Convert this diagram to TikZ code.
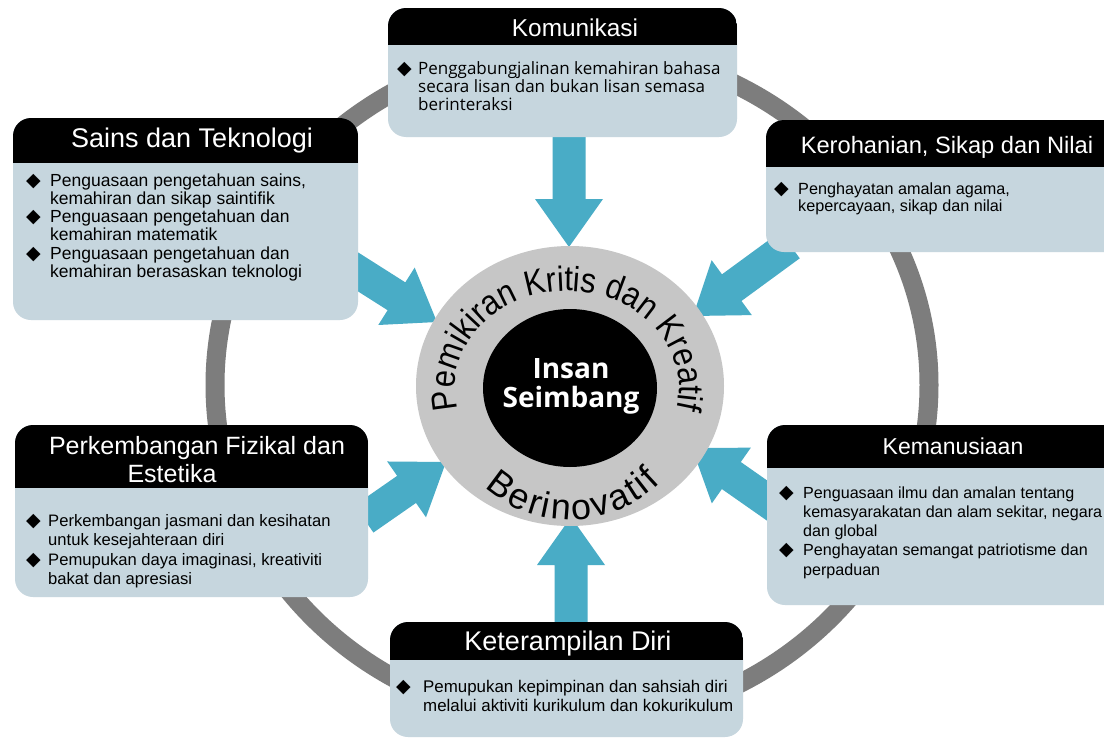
\documentclass[tikz,border=0pt]{standalone}
\usepackage{fontspec}
\setmainfont{Liberation Sans}
\newfontfamily\osans{Open Sans}
\newfontfamily\arcfont{Liberation Sans}[FakeStretch=0.88]
\newfontfamily\symf{DejaVu Sans}
\usetikzlibrary{shapes.geometric,decorations.text,calc}
\definecolor{bodyc}{RGB}{198,214,222}
\definecolor{ringc}{RGB}{125,125,125}
\definecolor{lgray}{RGB}{198,198,198}
\definecolor{arrowc}{RGB}{73,172,198}
\newlength\bw
\newcommand\bul{{\symf\fontsize{19}{14}\selectfont ◆}}
\newcommand\bl{\makebox[\bw][l]{\bul}}
\newcommand\nb{\hspace*{\bw}}
\newcommand\toparc{\arcfont\fontsize{35}{35}\selectfont}
\newcommand\botarc{\fontsize{36}{36}\selectfont}
\newcommand\mkbox[6]{%
  \node[boxbody, minimum width={(#4)-(#2)}, minimum height={(#5)-(#3)}] (#1) at ({((#2)+(#4))/2},{-((#3)+(#5))/2}) {};
  \begin{scope}
    \clip[rounded corners=18pt] (#2,-#3) rectangle (#4,-#5);
    \fill[black] (#2,-#3) rectangle (#4,-#6);
  \end{scope}}
\newcommand\blockarrow[2]{%
  \coordinate (#2h) at ($(#2)!48pt!(#1)$);
  \fill[arrowc] (#2) -- ($(#2h)!34pt!90:(#2)$) -- ($(#2h)!16.5pt!90:(#2)$) -- ($(#1)!16.5pt!90:(#2)$) -- ($(#1)!16.5pt!-90:(#2)$) -- ($(#2h)!16.5pt!-90:(#2)$) -- ($(#2h)!34pt!-90:(#2)$) -- cycle;}
\tikzset{
  boxbody/.style={fill=bodyc, rounded corners=18pt, inner sep=0pt, outer sep=0pt},
  ttl/.style={text=white, inner sep=0pt, anchor=base},
  bodytxt/.style={inner sep=0pt, anchor=base west, text=black},
}
\begin{document}
\begin{tikzpicture}[x=1pt,y=1pt]
\useasboundingbox (0,0) rectangle (1104,-739);
\clip (0,0) rectangle (1104,-739);
\fill[white] (0,0) rectangle (1104,-739);
% outer ring
\draw[ringc, line width=19pt] (572,-385) ellipse [x radius=357, y radius=338];
% arrows
\coordinate (kS) at (569,-125); \coordinate (kT) at (569,-247);
\coordinate (rS) at (790,-245); \coordinate (rT) at (693,-316);
\coordinate (sS) at (344,-263); \coordinate (sT) at (437,-322);
\coordinate (pS) at (364,-519); \coordinate (pT) at (446,-462);
\coordinate (mS) at (782,-511); \coordinate (mT) at (692,-448);
\coordinate (dS) at (571,-630); \coordinate (dT) at (571,-517);
\blockarrow{kS}{kT}
\blockarrow{rS}{rT}
\blockarrow{sS}{sT}
\blockarrow{pS}{pT}
\blockarrow{mS}{mT}
\blockarrow{dS}{dT}
% centre
\coordinate (C) at (570,-386);
\coordinate (CT) at (567,-388);
\node[ellipse, fill=lgray, minimum width=308pt, minimum height=280pt, inner sep=0pt] (band) at (C) {};
\node[ellipse, fill=black, minimum width=174pt, minimum height=158pt, inner sep=0pt] (core) at (570,-388) {};
\node[anchor=base, text=white, inner sep=0pt, font=\osans\bfseries\fontsize{28}{29}\selectfont] (insan) at (571,-378) {Insan};
\node[anchor=base, text=white, inner sep=0pt, font=\osans\bfseries\fontsize{28}{29}\selectfont] (seimbang) at (571,-407) {Seimbang};
\path[decorate, decoration={text along path, text={|\toparc|Pemikiran Kritis dan Kreatif}, text align=center}]
  ([shift={(CT)}]194:112 and 97) arc[start angle=194, end angle=-14, x radius=112, y radius=97];
\path[decorate, decoration={text along path, text={|\botarc|Berinovatif}, text align={fit to path}}]
  ([shift={(C)}]229:130 and 134) arc[start angle=229, end angle=314, x radius=130, y radius=134];
% boxes
\mkbox{kom}{388}{8}{737}{137}{45}
\mkbox{sains}{13}{118}{358}{320}{163}
\mkbox{keroh}{766}{120}{1130}{252}{167}
\mkbox{perk}{15}{425}{368}{597}{488}
\mkbox{kem}{767}{425}{1130}{605}{468}
\mkbox{ket}{390}{622}{743}{737}{660}
% titles
\node[ttl, font=\fontsize{24.4}{26}\selectfont] (komT) at (575,-36) {Komunikasi};
\node[ttl, font=\fontsize{27}{28}\selectfont] (sainsT) at (192,-147) {Sains dan Teknologi};
\node[ttl, font=\fontsize{23.7}{26}\selectfont] (kerohT) at (947,-153) {Kerohanian, Sikap dan Nilai};
\node[ttl, font=\fontsize{25}{28}\selectfont] (perkT1) at (197,-454) {Perkembangan Fizikal dan};
\node[ttl, font=\fontsize{25}{28}\selectfont] (perkT2) at (172,-482) {Estetika};
\node[ttl, font=\fontsize{23}{26}\selectfont] (kemT) at (953,-454) {Kemanusiaan};
\node[ttl, font=\fontsize{27}{28}\selectfont] (ketT) at (568,-650) {Keterampilan Diri};
% bodies
\node[bodytxt, font=\osans\fontsize{17}{18}\selectfont] (komB) at (397,-74) {\setlength\bw{21pt}\begin{tabular}[t]{@{}l@{}}
\bl Penggabungjalinan kemahiran bahasa\\
\nb secara lisan dan bukan lisan semasa\\
\nb berinteraksi\end{tabular}};
\node[bodytxt, font=\fontsize{17.5}{18.3}\selectfont] (sainsB) at (26,-186) {\setlength\bw{24pt}\begin{tabular}[t]{@{}l@{}}
\bl Penguasaan pengetahuan sains,\\
\nb kemahiran dan sikap saintifik\\
\bl Penguasaan pengetahuan dan\\
\nb kemahiran matematik\\
\bl Penguasaan pengetahuan dan\\
\nb kemahiran berasaskan teknologi\end{tabular}};
\node[bodytxt, font=\fontsize{16.2}{17}\selectfont] (kerohB) at (774,-194) {\setlength\bw{24pt}\begin{tabular}[t]{@{}l@{}}
\bl Penghayatan amalan agama,\\
\nb kepercayaan, sikap dan nilai\end{tabular}};
\node[bodytxt, font=\fontsize{16.6}{19.5}\selectfont] (perkB) at (26,-526) {\setlength\bw{22pt}\begin{tabular}[t]{@{}l@{}}
\bl Perkembangan jasmani dan kesihatan\\
\nb untuk kesejahteraan diri\\
\bl Pemupukan daya imaginasi, kreativiti\\
\nb bakat dan apresiasi\end{tabular}};
\node[bodytxt, font=\fontsize{16.1}{19.3}\selectfont] (kemB) at (779,-498) {\setlength\bw{24pt}\begin{tabular}[t]{@{}l@{}}
\bl Penguasaan ilmu dan amalan tentang\\
\nb kemasyarakatan dan alam sekitar, negara\\
\nb dan global\\
\bl Penghayatan semangat patriotisme dan\\
\nb perpaduan\end{tabular}};
\node[bodytxt, font=\fontsize{16.9}{19.5}\selectfont] (ketB) at (396,-692) {\setlength\bw{27pt}\begin{tabular}[t]{@{}l@{}}
\bl Pemupukan kepimpinan dan sahsiah diri\\
\nb melalui aktiviti kurikulum dan kokurikulum\end{tabular}};
\end{tikzpicture}
\end{document}
